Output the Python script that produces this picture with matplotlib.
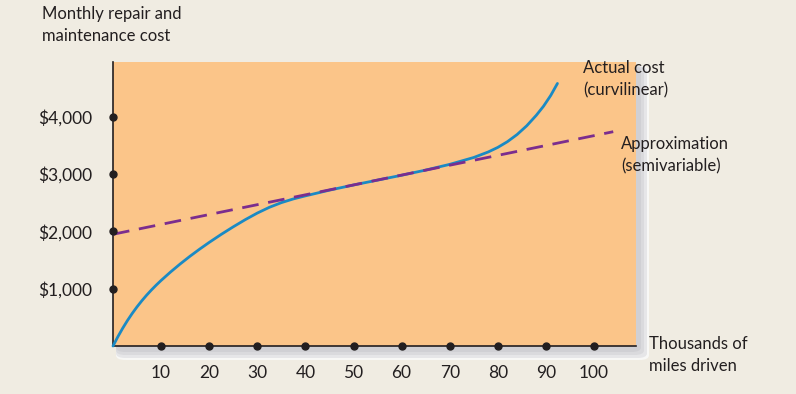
import numpy as np
import matplotlib
matplotlib.use('Agg')
import matplotlib.pyplot as plt
from matplotlib.patches import FancyBboxPatch

plt.rcParams['font.family'] = ['Lato', 'DejaVu Sans']

# data
miles = [0, 1, 2, 3, 4, 5, 6, 7, 8, 9, 10, 12, 14, 16, 18, 20, 22.5, 25, 27.5, 30,
         32.5, 35, 37.5, 40, 45, 50, 55, 60, 65, 70, 75, 78, 80, 82, 84, 86, 88,
         89.5, 91, 92.4]
actual = [0, 160, 308, 444, 569, 684, 790, 888, 979, 1064, 1144, 1294, 1434, 1566,
          1690, 1808, 1948, 2080, 2205, 2320, 2420, 2502, 2567, 2620, 2720, 2810,
          2895, 2980, 3070, 3170, 3290, 3386, 3466, 3566, 3690, 3842, 4026, 4184,
          4372, 4582]
approx_x = [0, 104]
approx_y = [1950, 3740]
xticks = [10, 20, 30, 40, 50, 60, 70, 80, 90, 100]
yticks = [1000, 2000, 3000, 4000]
ylabels = ['$1,000', '$2,000', '$3,000', '$4,000']

W, H = 796, 394
bg = '#f0ece2'
orange = '#fbc589'
ink = '#231f20'

fig = plt.figure(figsize=(W / 100, H / 100), dpi=100, facecolor=bg)

# axes box in pixels
x0, x1, ytop, ybot = 113, 636, 62, 346
ax = fig.add_axes([x0 / W, (H - ybot) / H, (x1 - x0) / W, (ybot - ytop) / H])
ax.set_facecolor(orange)
ax.set_zorder(3)

# soft grey shadow right and below the box
layers = [(13, '#f8f8f6'), (11, '#e6e6e8'), (8, '#dadadd'), (5, '#d0d0d4')]
for i, (pad, col) in enumerate(layers):
    p = FancyBboxPatch(((x0 + 3) / W, (H - ybot - pad - 1) / H),
                       (x1 - x0 + pad - 3) / W, (ybot - ytop - 3 + pad) / H,
                       boxstyle='round,pad=0,rounding_size=0.012',
                       transform=fig.transFigure, facecolor=col, edgecolor='none',
                       zorder=1 + i * 0.1)
    fig.patches.append(p)

ax.plot(miles, actual, color='#1a8ac4', lw=2, zorder=4, clip_on=False,
        solid_capstyle='round', solid_joinstyle='round')
ax.plot(approx_x, approx_y, color='#7b2d8e', lw=2, ls=(0, (6, 3.5)), zorder=5)

ax.set_xlim(0, (x1 - x0) / 4.81)
ax.set_ylim(0, (ybot - ytop) / 57.3 * 1000)

ax.plot(xticks, [0] * len(xticks), 'o', color=ink, ms=5, clip_on=False, zorder=6)
ax.plot([0] * len(yticks), yticks, 'o', color=ink, ms=5, clip_on=False, zorder=6)

for s in ['top', 'right']:
    ax.spines[s].set_visible(False)
for s in ['left', 'bottom']:
    ax.spines[s].set_color(ink)
    ax.spines[s].set_linewidth(1.2)

ax.set_xticks(xticks)
ax.set_xticklabels([str(v) for v in xticks], fontsize=12.5, color=ink)
ax.set_yticks(yticks)
ax.set_yticklabels(ylabels, fontsize=12.5, color=ink)
ax.tick_params(axis='x', length=0, pad=14)
ax.tick_params(axis='y', length=0, pad=15)

fig.text(42 / W, 1 - 6 / H, 'Monthly repair and\nmaintenance cost', fontsize=12,
         color=ink, va='top', ha='left', linespacing=1.45)
fig.text(583 / W, 1 - 60 / H, 'Actual cost\n(curvilinear)', fontsize=12,
         color=ink, va='top', ha='left', linespacing=1.45, zorder=10)
fig.text(621 / W, 1 - 136 / H, 'Approximation\n(semivariable)', fontsize=12,
         color=ink, va='top', ha='left', linespacing=1.45, zorder=10)
fig.text(649 / W, 1 - 336 / H, 'Thousands of\nmiles driven', fontsize=12,
         color=ink, va='top', ha='left', linespacing=1.45)

plt.savefig('out.png', dpi=100, facecolor=bg)
